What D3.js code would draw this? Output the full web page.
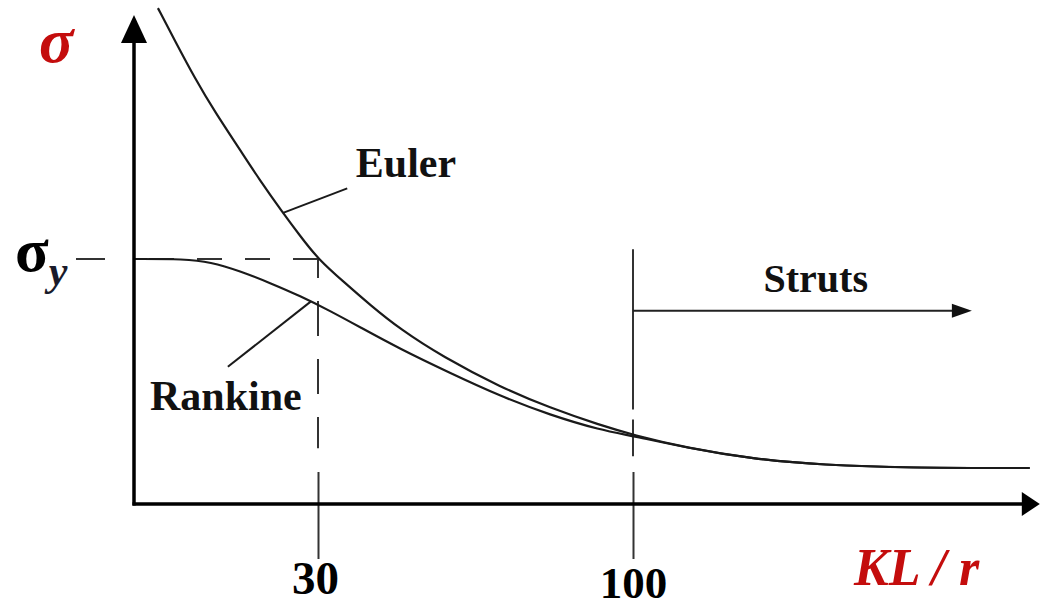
<!DOCTYPE html>
<html>
<head>
<meta charset="utf-8">
<script src="https://cdn.jsdelivr.net/npm/d3@7/dist/d3.min.js"></script>
<style>
  html, body { margin: 0; padding: 0; background: #fff; }
  svg { display: block; }
  text { font-family: "Liberation Serif", "Times New Roman", "DejaVu Serif", serif; }
</style>
</head>
<body>
<svg id="chart" width="1040" height="608"></svg>
<script>
// ---- data (slenderness KL/r vs stress ratio sigma/sigma_y) ----
const eulerX   = [3.9, 6.7, 9.9, 13.2, 17.3, 20.5, 24.3, 27.1, 30, 36.0, 41.6, 48.2, 57.8, 70.4, 81.6, 92.7, 100, 112, 126.7, 141.6, 163.8, 188.2];
const eulerY   = [2.024, 1.890, 1.739, 1.600, 1.445, 1.322, 1.188, 1.094, 1.0, 0.902, 0.812, 0.714, 0.600, 0.478, 0.392, 0.322, 0.282, 0.229, 0.184, 0.159, 0.147, 0.147];
const rankineX = [0, 8.3, 12.4, 17.3, 22.2, 27.1, 32.7, 39.3, 48.2, 59.3, 70.4, 81.6, 92.7, 100, 112, 126.7, 141.6, 163.8, 177];
const rankineY = [1.0, 1.0, 0.988, 0.951, 0.902, 0.849, 0.788, 0.722, 0.633, 0.535, 0.441, 0.363, 0.302, 0.278, 0.229, 0.184, 0.159, 0.147, 0.147];
const xTicks = [30, 100];
const xTickLabels = ["30", "100"];
const sigmaY = 1.0;
const strutsLimit = 100;
const strutsArrowEnd = 175.3;
const strutsArrowLevel = 0.789;
const axisXEnd = 190.4;
const axisYEnd = 1.996;

const svg = d3.select("#chart");
const x = d3.scaleLinear().domain([0, 30, 100]).range([134, 318, 633]);
const y = d3.scaleLinear().domain([0, 1]).range([504, 259]);

const ink = "#1a1a1a";
const red = "#c40d0d";

// dashed guide at sigma_y (from x=30 back to the axis)
svg.append("line")
  .attr("x1", x(30)).attr("y1", y(sigmaY))
  .attr("x2", x(0)).attr("y2", y(sigmaY))
  .attr("stroke", "#333").attr("stroke-width", 2)
  .attr("stroke-dasharray", "25,23");
// small tick left of the axis
svg.append("line")
  .attr("x1", x(0) - 58).attr("x2", x(0) - 29)
  .attr("y1", y(sigmaY)).attr("y2", y(sigmaY))
  .attr("stroke", "#333").attr("stroke-width", 2);

// dashed vertical at 30
svg.append("line")
  .attr("x1", x(30)).attr("x2", x(30))
  .attr("y1", y(sigmaY)).attr("y2", y(0.228))
  .attr("stroke", "#333").attr("stroke-width", 2)
  .attr("stroke-dasharray", "35,23").attr("stroke-dashoffset", 16);

// vertical at 100: solid part, one dash
svg.append("line")
  .attr("x1", x(strutsLimit)).attr("x2", x(strutsLimit))
  .attr("y1", y(1.04)).attr("y2", y(0.386))
  .attr("stroke", "#333").attr("stroke-width", 2);
svg.append("line")
  .attr("x1", x(strutsLimit)).attr("x2", x(strutsLimit))
  .attr("y1", y(0.345)).attr("y2", y(0.195))
  .attr("stroke", "#333").attr("stroke-width", 2);

// x axis with ticks crossing it
const xAxis = d3.axisBottom(x).tickValues(xTicks).tickSize(0).tickFormat((d, i) => xTickLabels[i]);
const gx = svg.append("g").attr("transform", `translate(0,${y(0)})`).call(xAxis);
gx.select(".domain").remove();
gx.selectAll(".tick line")
  .attr("y1", -32).attr("y2", 55)
  .attr("stroke", "#333").attr("stroke-width", 2);
gx.selectAll(".tick text")
  .attr("y", d => d === 100 ? 94 : 90)
  .attr("dy", 0)
  .attr("dx", d => d === 30 ? -3 : 0)
  .attr("fill", "#000")
  .attr("font-size", d => d === 100 ? 45 : 47).attr("font-weight", "bold")
  .attr("font-family", "'Liberation Serif', 'Times New Roman', serif");

// curves
const line = d3.line().x(d => x(d[0])).y(d => y(d[1])).curve(d3.curveBasis);
svg.append("path")
  .attr("d", line(rankineX.map((v, i) => [v, rankineY[i]])))
  .attr("fill", "none").attr("stroke", ink).attr("stroke-width", 2.2);
svg.append("path")
  .attr("d", line(eulerX.map((v, i) => [v, eulerY[i]])))
  .attr("fill", "none").attr("stroke", ink).attr("stroke-width", 2.2);

// axis lines + arrowheads
svg.append("line")
  .attr("x1", x(0)).attr("x2", x(0))
  .attr("y1", y(0) + 1.5).attr("y2", y(axisYEnd) + 20)
  .attr("stroke", "#000").attr("stroke-width", 3.5);
svg.append("path")
  .attr("d", `M${x(0)},${y(axisYEnd)} L${x(0) - 13},${y(axisYEnd) + 28} L${x(0) + 13},${y(axisYEnd) + 28} Z`)
  .attr("fill", "#000");
svg.append("line")
  .attr("x1", x(0) - 1.5).attr("x2", x(axisXEnd) - 12)
  .attr("y1", y(0)).attr("y2", y(0))
  .attr("stroke", "#000").attr("stroke-width", 3.5);
svg.append("path")
  .attr("d", `M${x(axisXEnd)},${y(0)} L${x(axisXEnd) - 18},${y(0) - 12} L${x(axisXEnd) - 18},${y(0) + 12} Z`)
  .attr("fill", "#000");

// struts arrow
svg.append("line")
  .attr("x1", x(strutsLimit)).attr("x2", x(strutsArrowEnd) - 10)
  .attr("y1", y(strutsArrowLevel)).attr("y2", y(strutsArrowLevel))
  .attr("stroke", "#222").attr("stroke-width", 2);
svg.append("path")
  .attr("d", `M${x(strutsArrowEnd)},${y(strutsArrowLevel)} L${x(strutsArrowEnd) - 20},${y(strutsArrowLevel) - 7} L${x(strutsArrowEnd) - 20},${y(strutsArrowLevel) + 7} Z`)
  .attr("fill", "#111");
svg.append("text")
  .attr("x", x(strutsLimit + 29)).attr("y", y(0.865))
  .attr("font-size", 40).attr("font-weight", "bold").attr("fill", "#111")
  .text("Struts");

// leaders
svg.append("line")
  .attr("x1", x(24.3)).attr("y1", y(1.188))
  .attr("x2", x(36.5)).attr("y2", y(1.288))
  .attr("stroke", ink).attr("stroke-width", 2);
svg.append("line")
  .attr("x1", x(28.8)).attr("y1", y(0.826))
  .attr("x2", x(15.3)).attr("y2", y(0.56))
  .attr("stroke", ink).attr("stroke-width", 2);

svg.append("text")
  .attr("x", x(38.4)).attr("y", y(1.335))
  .attr("font-size", 42).attr("font-weight", "bold").attr("fill", "#111")
  .text("Euler");
svg.append("text")
  .attr("x", x(2.6)).attr("y", y(0.385))
  .attr("font-size", 42).attr("font-weight", "bold").attr("fill", "#111")
  .text("Rankine");

// axis titles
svg.append("text")
  .attr("x", 39).attr("y", 62)
  .attr("font-size", 64).attr("font-weight", "bold").attr("font-style", "italic")
  .attr("fill", red).text("σ");
const sy = svg.append("text")
  .attr("x", 15).attr("y", y(sigmaY) + 12)
  .attr("font-size", 62).attr("font-weight", "bold").attr("fill", "#000");
sy.append("tspan").text("σ");
sy.append("tspan").attr("dy", 14).attr("font-size", 42).attr("font-style", "italic").attr("fill", "#1a1a2a").text("y");

svg.append("text")
  .attr("x", 854).attr("y", 585)
  .attr("font-size", 52).attr("font-weight", "bold").attr("font-style", "italic")
  .attr("fill", red).text("KL / r");
</script>
</body>
</html>
